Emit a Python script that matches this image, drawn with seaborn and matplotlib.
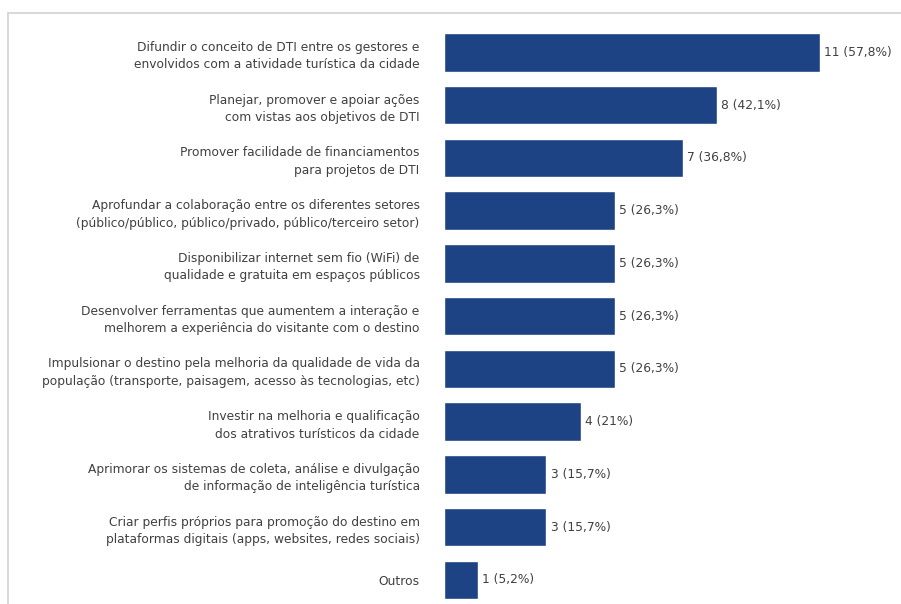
import matplotlib
matplotlib.use("Agg")
import matplotlib.pyplot as plt
from matplotlib.lines import Line2D
import seaborn as sns
import pandas as pd

acoes = [
    "Difundir o conceito de DTI entre os gestores e\nenvolvidos com a atividade turística da cidade",
    "Planejar, promover e apoiar ações\ncom vistas aos objetivos de DTI",
    "Promover facilidade de financiamentos\npara projetos de DTI",
    "Aprofundar a colaboração entre os diferentes setores\n(público/público, público/privado, público/terceiro setor)",
    "Disponibilizar internet sem fio (WiFi) de\nqualidade e gratuita em espaços públicos",
    "Desenvolver ferramentas que aumentem a interação e\nmelhorem a experiência do visitante com o destino",
    "Impulsionar o destino pela melhoria da qualidade de vida da\npopulação (transporte, paisagem, acesso às tecnologias, etc)",
    "Investir na melhoria e qualificação\ndos atrativos turísticos da cidade",
    "Aprimorar os sistemas de coleta, análise e divulgação\nde informação de inteligência turística",
    "Criar perfis próprios para promoção do destino em\nplataformas digitais (apps, websites, redes sociais)",
    "Outros",
]
respostas = [11, 8, 7, 5, 5, 5, 5, 4, 3, 3, 1]
percentuais = ["57,8", "42,1", "36,8", "26,3", "26,3", "26,3", "26,3", "21", "15,7", "15,7", "5,2"]

df = pd.DataFrame({"acao": acoes, "respostas": respostas})

sns.set_theme(style="white")
plt.rcParams["font.family"] = ["DejaVu Sans"]

W, H = 901, 604
fig = plt.figure(figsize=(W / 100, H / 100), dpi=100)
fig.patch.set_facecolor("white")

ax_left, ax_right = 444, 895
ax = fig.add_axes([ax_left / W, 0, (ax_right - ax_left) / W, 1])

sns.barplot(data=df, y="acao", x="respostas", orient="h", color="#1d4385",
            saturation=1, width=0.73, ax=ax)

px_per_unit = 34.15
ax.set_xlim(0, (ax_right - ax_left) / px_per_unit)
first_c, step = 52.3, 52.75
ax.set_ylim((H - first_c) / step, -first_c / step)

ax.set_xlabel("")
ax.set_ylabel("")
ax.set_xticks([])
for s in ax.spines.values():
    s.set_visible(False)
ax.tick_params(axis="y", length=0, pad=17.5)
txt_color = "#404040"
for lbl in ax.get_yticklabels():
    lbl.set_fontsize(8.8)
    lbl.set_color(txt_color)
    lbl.set_horizontalalignment("right")
    lbl.set_multialignment("right")
    lbl.set_linespacing(1.45)

rotulos = [f"{n} ({p}%)" for n, p in zip(respostas, percentuais)]
ax.bar_label(ax.containers[0], labels=rotulos, padding=3, fontsize=8.8,
             color=txt_color)

# thin frame on the top and left edges of the panel
edge = "#d6d6d6"
fig.add_artist(Line2D([7.5 / W, 1], [1 - 13 / H, 1 - 13 / H],
                      transform=fig.transFigure, color=edge, lw=1.3))
fig.add_artist(Line2D([7.5 / W, 7.5 / W], [0, 1 - 13 / H],
                      transform=fig.transFigure, color=edge, lw=1.3))

fig.savefig("out.png", dpi=100)
